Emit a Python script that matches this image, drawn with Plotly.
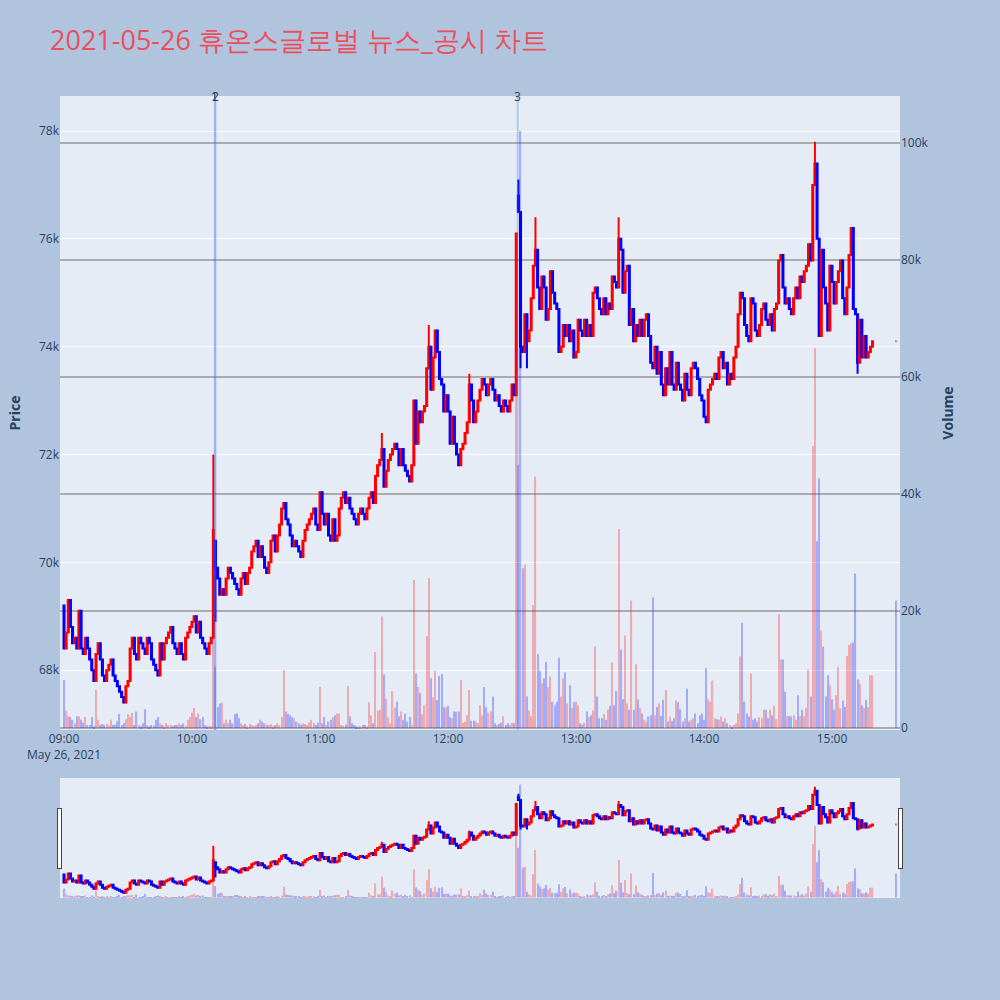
import pandas as pd
import plotly.graph_objects as go
from plotly.subplots import make_subplots

title_text = "2021-05-26 휴온스글로벌 뉴스_공시 차트"
session_start = "2021-05-26 09:00"
auction_time = "2021-05-26 15:30"

# one-minute closes, in units of 100 KRW
close_0900 = [684, 687, 693, 688, 685, 686, 684, 691, 684, 683,
              686, 684, 682, 680, 678, 683, 685, 682, 679, 678,
              680, 681, 682, 679, 678, 677, 676, 675, 674, 677,
              678, 684, 686, 683, 682, 686, 685, 684, 683, 686,
              685, 682, 681, 680, 679, 685, 682, 685, 686, 687,
              688, 685, 684, 683, 685, 683, 682, 686, 687, 688,
              689, 690, 687, 689, 686, 685, 684, 683, 685, 686]
close_1010 = [706, 699,
              697, 694, 695, 694, 697, 699, 698, 697, 696, 695,
              694, 697, 698, 696, 698, 699, 702, 703, 704, 701,
              703, 701, 699, 698, 700, 704, 705, 702, 705, 707,
              710, 711, 708, 707, 705, 703, 704, 703, 702, 701,
              704, 706, 707, 708, 709, 710, 707, 706, 713, 709,
              707, 709, 705, 704, 708, 704, 705, 710]
close_1110 = [712, 713, 711, 712, 710, 709, 708, 707, 709, 710,
              709, 708, 710, 712, 713, 711, 716, 718, 719, 721,
              714, 717, 719, 720, 721, 722, 721, 718, 721, 718,
              717, 716, 715, 718, 730, 722, 728, 726, 728, 729,
              736, 740, 732, 738, 743, 739, 734, 733, 728, 731,
              728, 722, 727, 722, 720, 718, 721, 722, 724, 726,
              733, 730, 726, 728, 730, 732, 734, 733, 731, 733,
              734, 732, 730, 731, 729, 728, 730, 729, 728, 730,
              733, 731]
close_1232 = [761, 765, 740, 739, 746, 741, 743, 749, 755, 758,
              751, 747, 753, 751, 745, 747, 754, 750, 748, 747,
              739, 740, 744, 742, 744, 741, 743, 738, 739, 745,
              743, 742, 745, 742, 744, 742, 750, 751, 749, 747,
              746, 749, 746, 748, 747, 753, 752, 751]
close_1320 = [760, 758, 750, 754, 755, 744, 747, 741, 744, 742,
              745, 742, 745, 746, 742, 737, 736, 740, 735, 739,
              733, 731, 736, 733, 739, 733, 732, 737, 733, 732,
              730, 735, 732, 731, 736, 737, 736, 734, 731, 730,
              727, 726, 732, 733, 734, 735, 734, 738, 739, 736,
              737, 733, 735, 734, 738, 740, 746, 750, 749, 744,
              742, 741, 749, 748, 743, 742]
close_1426 = [744, 747, 748, 745, 744, 746, 743, 747, 748, 756,
              757, 751, 748, 749, 747, 746, 749, 751, 749, 753,
              752, 754, 755, 759, 756, 770, 774, 760, 742, 758,
              751, 748, 743, 755, 752, 748, 752, 754, 756, 749,
              746, 751, 757, 762, 747, 746, 737, 745, 738, 742,
              738, 739, 740, 741]
close_1530 = 741

first_open = 692
open_fix = {"10:10": 686, "10:11": 704, "12:33": 768}
high_fix = {"10:10": 720, "11:29": 724, "11:51": 744, "12:10": 735, "12:33": 771,
            "12:41": 764, "13:20": 764, "14:52": 778, "14:54": 760}
low_fix = {"10:11": 689, "12:34": 736, "12:37": 736, "15:12": 735}

# one-minute volume, shares
vol_0900 = [8200, 3000, 2000, 1900, 1400, 800, 2000, 2000, 1400, 900,
            1900, 500, 500, 1900, 300, 6500, 1400, 500, 700, 500,
            700, 400, 1400, 500, 500, 1100, 2400, 500, 800, 1500,
            2400, 1900, 2600, 500, 2800, 500, 300, 800, 3200, 500,
            300, 500, 400, 1400, 1900, 800, 500, 300, 800, 500,
            500, 350, 500, 500, 800, 500, 800, 350, 1400, 1900,
            2600, 3400, 1900, 2500, 1500, 1900, 500, 300, 350, 300]
vol_1010 = [34000, 10500, 3600, 4200, 4300, 800, 1400, 800, 1400, 800,
            2400, 2500, 1650, 800, 500, 700, 300, 700, 500, 350,
            500, 800, 1400, 1100, 800, 500, 500, 700, 300, 500,
            800, 500, 1900, 9900, 2800, 2400, 2200, 1900, 1650, 1100,
            800, 500, 800, 700, 500, 900, 1400, 800, 500, 900,
            7000, 800, 1900, 500, 1100, 1400, 1900, 2200, 2500, 2500]
vol_1110 = [500, 400, 600, 7200, 2000, 800, 500, 300, 250, 300,
            500, 500, 250, 4400, 2200, 800, 13000, 3000, 3100, 19000,
            9200, 5000, 1900, 800, 6300, 3500, 4500, 2000, 2800, 1400,
            2500, 1100, 1900, 500, 25300, 9300, 7000, 6000, 2400, 3900,
            15700, 25600, 8500, 5200, 9800, 4800, 8900, 9200, 3600, 3500,
            3800, 1900, 1650, 2800, 2800, 2800, 8200, 900, 1100, 2200,
            6500, 1250, 1250, 1100, 800, 3900, 2200, 7000, 3600, 2600,
            2800, 5400, 800, 500, 700, 900, 2000, 500, 800, 500,
            900, 800]
vol_1232 = [62000, 45000, 102000, 27300, 27900, 5400, 3000, 2000, 21000, 43000,
            12600, 9800, 7700, 8500, 11300, 7000, 8800, 4500, 3900, 4500,
            12000, 5400, 8500, 9500, 4200, 7300, 3400, 4400, 4500, 3900,
            800, 500, 900, 2800, 1900, 2200, 3000, 13900, 5400, 1650,
            1650, 2400, 1400, 3100, 3800, 11200, 3900, 6300]
vol_1320 = [34000, 13400, 4900, 15800, 4200, 3100, 21800, 3100, 10900, 4900,
            3400, 2500, 1400, 1100, 1950, 2200, 22300, 2200, 3600, 4200,
            2050, 4800, 6500, 1100, 1950, 1250, 1650, 4700, 4400, 3200,
            1100, 1650, 6700, 1100, 1400, 1650, 2500, 800, 2200, 2500,
            1400, 10200, 4900, 4500, 8100, 1650, 1500, 1400, 1950, 1100,
            1650, 800, 500, 250, 500, 800, 2500, 12200, 18000, 4500,
            2500, 1950, 9300, 1400, 1650, 1100]
vol_1426 = [1800, 1650, 3100, 3100, 1650, 3100, 2200, 3800, 1500, 19500,
            11700, 11700, 6200, 2050, 2050, 1950, 2200, 1400, 5600, 2050,
            3100, 1950, 3400, 10000, 5400, 48200, 64900, 31900, 42700, 16600,
            13900, 5400, 9000, 7400, 4900, 3100, 5600, 10400, 3400, 4700,
            3600, 12300, 14200, 14500, 14600, 26400, 8300, 7600, 3900, 3400,
            4800, 3600, 9000, 9000]
vol_1530 = 21800

news_times = ["2021-05-26 10:10:40", "2021-05-26 10:11:00", "2021-05-26 12:32:40"]
news_labels = ["1", "2", "3"]

# ---- assemble OHLC ----
closes = [c * 100 for c in close_0900 + close_1010 + close_1110 + close_1232 + close_1320 + close_1426]
volumes = vol_0900 + vol_1010 + vol_1110 + vol_1232 + vol_1320 + vol_1426
times = list(pd.date_range(session_start, periods=len(closes), freq="min"))
times.append(pd.Timestamp(auction_time))
closes.append(close_1530 * 100)
volumes.append(vol_1530)

opens = [first_open * 100] + closes[:-1]
opens[-1] = closes[-1]
labels = [t.strftime("%H:%M") for t in times]
for i, lab in enumerate(labels):
    if lab in open_fix:
        opens[i] = open_fix[lab] * 100
highs = [max(o, c) for o, c in zip(opens, closes)]
lows = [min(o, c) for o, c in zip(opens, closes)]
for i, lab in enumerate(labels):
    if lab in high_fix:
        highs[i] = high_fix[lab] * 100
    if lab in low_fix:
        lows[i] = low_fix[lab] * 100

colors = []
prev = "red"
for i, (o, c) in enumerate(zip(opens, closes)):
    if c > o:
        prev = "red"
    elif c < o:
        prev = "blue"
    colors.append(prev)
colors[-1] = "blue"

fig = make_subplots(specs=[[{"secondary_y": True}]])
fig.add_trace(go.Candlestick(
    x=times, open=opens, high=highs, low=lows, close=closes,
    increasing=dict(line=dict(color="red"), fillcolor="red"),
    decreasing=dict(line=dict(color="blue"), fillcolor="blue"),
    name="Price", showlegend=False), secondary_y=False)
fig.add_trace(go.Bar(x=times, y=volumes, marker=dict(color=colors, line=dict(width=0)),
                     opacity=0.27, name="Volume", showlegend=False), secondary_y=True)

for t, lab in zip(news_times, news_labels):
    fig.add_shape(type="line", x0=t, x1=t, xref="x", y0=0, y1=1, yref="paper",
                  line=dict(color="rgba(65,105,225,0.3)", width=2))
    fig.add_annotation(x=t, y=1, xref="x", yref="paper", text=lab, showarrow=False,
                       yanchor="middle", font=dict(size=12, color="#2a3f5f"))

x_range = ["2021-05-26 08:58:07", "2021-05-26 15:31:53"]
fig.update_layout(
    width=1000, height=1000,
    paper_bgcolor="#B0C4DE", plot_bgcolor="#E5ECF6",
    margin=dict(l=60, r=100, t=96, b=270, autoexpand=False),
    showlegend=False,
    title=dict(text=title_text, x=0.05, xanchor="left", y=0.959, yanchor="middle",
               font=dict(size=27, color="#EB4F5E")),
    bargap=0.45,
)
fig.update_xaxes(range=x_range, showgrid=False, domain=[0, 1],
                 rangeslider=dict(visible=True, thickness=0.19, bgcolor="#E5ECF6", range=x_range))
fig.update_yaxes(title_text="<b>Price</b>", range=[66890, 78650], secondary_y=False,
                 gridcolor="white", title_font=dict(size=14))
fig.update_yaxes(title_text="<b>Volume</b>", range=[-340, 108000], secondary_y=True,
                 showgrid=True, gridcolor="rgba(128,128,128,0.6)", gridwidth=2,
                 zeroline=False, title_font=dict(size=14))

fig.write_html("out.html", config={"displayModeBar": False},
               post_script="document.body.style.margin='0';")
